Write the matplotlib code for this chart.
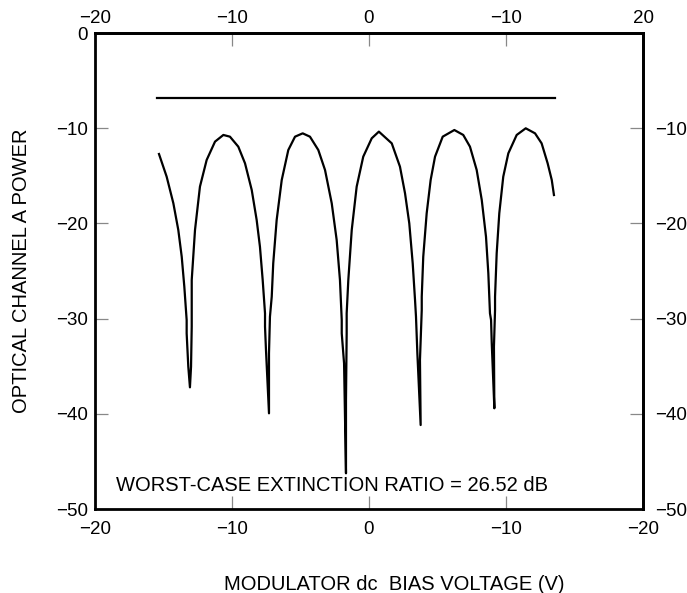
import numpy as np
from matplotlib import pyplot as plt

plt.rcParams['font.family'] = ['Liberation Sans', 'DejaVu Sans']

bias_v = [-15.33, -14.77, -14.28, -13.92, -13.67, -13.48, -13.31, -13.31, -13.19, -13.07,
          -12.99, -12.94, -12.94, -12.70, -12.34, -11.85, -11.24, -10.63, -10.15, -9.54,
          -9.05, -8.56, -8.20, -7.96, -7.76, -7.59, -7.59, -7.52, -7.30, -7.30,
          -7.23, -7.10, -6.99, -6.74, -6.37, -5.89, -5.40, -4.84, -4.31, -3.70,
          -3.21, -2.72, -2.36, -2.12, -1.99, -1.99, -1.82, -1.68, -1.68, -1.63,
          -1.63, -1.51, -1.26, -0.90, -0.42, 0.20, 0.72, 1.66, 2.26, 2.63,
          2.94, 3.19, 3.36, 3.43, 3.53, 3.77, 3.72, 3.85, 3.85, 3.96,
          4.21, 4.50, 4.82, 5.38, 6.23, 6.88, 7.37, 7.86, 8.23, 8.54,
          8.71, 8.83, 8.91, 8.96, 9.15, 9.12, 9.20, 9.20, 9.32, 9.51,
          9.80, 10.17, 10.78, 11.44, 12.12, 12.60, 13.04, 13.34, 13.50]
power_db = [-12.71, -15.09, -17.89, -20.69, -23.50, -26.65, -30.15, -31.55, -35.05, -37.22,
            -35.05, -30.85, -25.95, -20.69, -16.14, -13.34, -11.41, -10.71, -10.89, -11.94,
            -13.69, -16.49, -19.64, -22.45, -25.95, -29.45, -30.85, -33.30, -39.95, -33.65,
            -29.80, -27.70, -24.19, -19.64, -15.44, -12.29, -10.89, -10.54, -10.89, -12.29,
            -14.39, -17.89, -21.74, -25.95, -30.15, -31.55, -34.70, -46.25, -38.55, -31.55,
            -29.45, -25.95, -20.69, -16.14, -12.99, -11.06, -10.36, -11.59, -14.04, -16.84,
            -19.99, -24.19, -28.05, -29.80, -33.65, -41.18, -34.35, -29.10, -27.70, -23.50,
            -18.94, -15.44, -12.99, -10.89, -10.19, -10.71, -11.94, -14.39, -17.54, -21.40,
            -25.24, -29.45, -30.15, -32.60, -39.42, -32.95, -29.10, -27.70, -23.14, -18.94,
            -15.09, -12.64, -10.71, -10.01, -10.54, -11.59, -13.69, -15.44, -17.02]

# reference level line
ref_v = [-15.47, 13.58]
ref_db = [-6.8, -6.8]

xticks = [-20, -10, 0, 10, 20]
xlabels_bottom = ['\u221220', '\u221210', '0', '\u221210', '\u221220']
xlabels_top = ['\u221220', '\u221210', '0', '\u221210', '20']
yticks = [0, -10, -20, -30, -40, -50]
ylabels_left = ['0', '\u221210', '\u221220', '\u221230', '\u221240', '\u221250']
yticks_right = [-10, -20, -30, -40, -50]
ylabels_right = ['\u221210', '\u221220', '\u221230', '\u221240', '\u221250']

fig = plt.figure(figsize=(6.87, 5.93), dpi=100)
ax = fig.add_axes([95/687, 1-509/593, 548/687, 476/593])

ax.plot(bias_v, power_db, color='black', lw=1.6)
ax.plot(ref_v, ref_db, color='black', lw=1.6)

ax.set_xlim(-20, 20)
ax.set_ylim(-50, 0)
for s in ax.spines.values():
    s.set_linewidth(2.0)

tick_kw = dict(direction='in', length=9.5, width=0.9, color='#888888',
               labelcolor='black', labelsize=13.5)
ax.set_xticks(xticks, xlabels_bottom)
ax.set_yticks(yticks, ylabels_left)
ax.tick_params(axis='x', pad=9, **tick_kw)
ax.tick_params(axis='y', pad=5, **tick_kw)

top = ax.secondary_xaxis('top')
top.set_xticks(xticks, xlabels_top)
top.tick_params(pad=4, **tick_kw)
top.spines['top'].set_linewidth(2.0)

right = ax.secondary_yaxis('right')
right.set_yticks(yticks_right, ylabels_right)
right.tick_params(pad=9, **tick_kw)
right.spines['right'].set_linewidth(2.0)

ax.text(-18.5, -48.5, 'WORST-CASE EXTINCTION RATIO = 26.52 dB', fontsize=14.5,
        ha='left', va='bottom')

fig.text(394/687, 1-585/593, 'MODULATOR dc  BIAS VOLTAGE (V)', fontsize=14.5,
         ha='center', va='center')
fig.text(22/687, 1-271/593, 'OPTICAL CHANNEL A POWER', fontsize=14.5,
         rotation=90, ha='center', va='center')

plt.savefig('out.png', dpi=100)
